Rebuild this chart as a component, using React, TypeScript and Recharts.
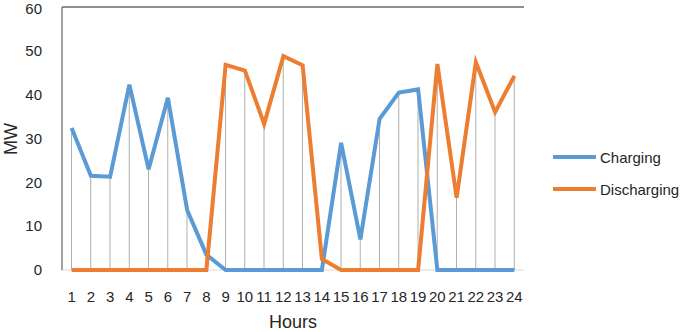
import React from "react";
import {
  Bar,
  CartesianGrid,
  ComposedChart,
  Line,
  ReferenceLine,
  XAxis,
  YAxis,
} from "recharts";

const HOURS = ["1", "2", "3", "4", "5", "6", "7", "8", "9", "10", "11", "12", "13", "14", "15", "16", "17", "18", "19", "20", "21", "22", "23", "24"];
const CHARGING = [32.4, 21.5, 21.3, 42.3, 23, 39.3, 13.7, 3.5, 0, 0, 0, 0, 0, 0, 29, 7, 34.5, 40.5, 41.2, 0, 0, 0, 0, 0];
const DISCHARGING = [0, 0, 0, 0, 0, 0, 0, 0, 46.8, 45.5, 33.3, 48.8, 46.7, 2.5, 0, 0, 0, 0, 0, 47, 16.5, 47.4, 36, 44.3];
const Y_TICKS = [0, 10, 20, 30, 40, 50, 60];

const BLUE = "#5B9BD5";
const ORANGE = "#ED7D31";
const TEXT = "#262626";
const FONT = "'Liberation Sans', Arial, sans-serif";

const data = HOURS.map((h, i) => ({
  hour: h,
  charging: CHARGING[i],
  discharging: DISCHARGING[i],
  drop: Math.max(CHARGING[i], DISCHARGING[i]),
}));

// legend drawn beside the chart, like the excel original
function LegendBox() {
  const rows = [
    { name: "Charging", color: BLUE },
    { name: "Discharging", color: ORANGE },
  ];
  return (
    <div style={{ position: "absolute", left: 553, top: 141, fontFamily: FONT, fontSize: 15, color: TEXT }}>
      {rows.map((r) => (
        <div key={r.name} style={{ display: "flex", alignItems: "center", height: 32 }}>
          <span style={{ display: "inline-block", width: 43, height: 4, background: r.color, marginRight: 4 }} />
          <span>{r.name}</span>
        </div>
      ))}
    </div>
  );
}

export default function App() {
  return (
    <div style={{ position: "absolute", left: 0, top: 0, width: 685, height: 332, background: "#fff" }}>
      <ComposedChart width={685} height={332} data={data} margin={{ top: 7, right: 161, bottom: 0, left: 0 }}>
        <CartesianGrid vertical={false} stroke="#d9d9d9" />
        <XAxis
          dataKey="hour"
          height={62}
          tickLine={false}
          axisLine={false}
          interval={0}
          tickMargin={15}
          tick={{ fontSize: 15, fill: TEXT, fontFamily: FONT }}
          label={{
            content: () => (
              <text x={293} y={328} textAnchor="middle" fontSize={18} fill={TEXT} fontFamily={FONT}>
                Hours
              </text>
            ),
          }}
        />
        <YAxis
          yAxisId="l"
          width={62}
          domain={[0, 60]}
          ticks={Y_TICKS}
          tickLine={false}
          axisLine={{ stroke: "#6f6f6f", strokeWidth: 1.3 }}
          tickMargin={14}
          tick={{ fontSize: 15, fill: TEXT, fontFamily: FONT }}
          label={{
            content: () => (
              <text x={17} y={139} transform="rotate(-90 17 139)" textAnchor="middle" fontSize={18} fill={TEXT} fontFamily={FONT}>
                MW
              </text>
            ),
          }}
        />
        <YAxis yAxisId="r" orientation="right" width={0} domain={[0, 60]} tick={false} tickLine={false} axisLine={{ stroke: "#6f6f6f", strokeWidth: 1.3 }} />
        <ReferenceLine yAxisId="l" y={60} stroke="#6f6f6f" strokeWidth={1.3} />
        <Bar yAxisId="l" dataKey="drop" barSize={1} fill="#b0b0b0" legendType="none" isAnimationActive={false} />
        <Line yAxisId="l" type="linear" dataKey="charging" name="Charging" stroke={BLUE} strokeWidth={4} dot={false} isAnimationActive={false} />
        <Line yAxisId="l" type="linear" dataKey="discharging" name="Discharging" stroke={ORANGE} strokeWidth={4} dot={false} isAnimationActive={false} />
      </ComposedChart>
      <LegendBox />
    </div>
  );
}
